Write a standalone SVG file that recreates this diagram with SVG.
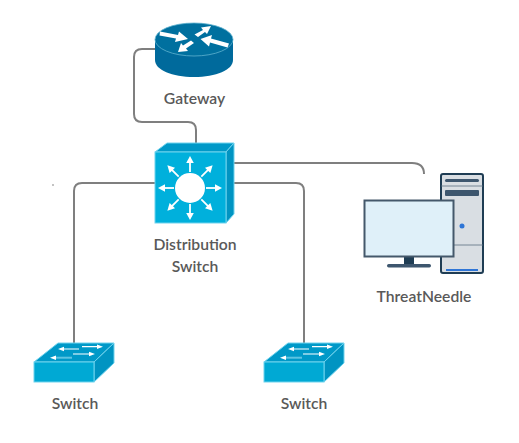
<svg xmlns="http://www.w3.org/2000/svg" width="519" height="443" viewBox="0 0 519 443">
<style>
.c{fill:none;stroke:#7f7f7f;stroke-width:2}
.t{font-family:Lato,"Liberation Sans",sans-serif;font-size:15.700px;font-weight:600;fill:#595959;text-anchor:middle}
.w{fill:#fff}
</style>
<defs>
<g id="sw">
<path d="M0 19L24 0H80L60 19Z" fill="#0099c8" stroke="#6fd3ee"/>
<path d="M60 19L80 0V20L60 39Z" fill="#0094c2" stroke="#6fd3ee"/>
<rect y="19" width="60" height="20" fill="#00a9d4" stroke="#6fd3ee"/>
<path d="M30 6H45M48 3.700H63M39 11H55" stroke="#fff" stroke-width="1.200" fill="none"/>
<path d="M22 14.700H38" stroke="#5cc4e2" stroke-width="2" fill="none"/>
<path d="M24 6l6-2.300v4.600zM69 3.700l-6-2.300v4.600zM61 11l-6-2.300v4.600zM16 14.700l6-2.300v4.600z" fill="#fff"/>
</g>
<g id="ar">
<path d="M0 -16V-27" stroke="#fff" stroke-width="1.800" fill="none"/>
<path d="M0 -32l-3.800 7h7.600z" fill="#fff"/>
</g>
</defs>
<g id="connectors">
<path class="c" d="M155 49H142Q134 49 134 57V114Q134 122 142 122H188Q196 122 196 130V143"/>
<path class="c" d="M234 163H412Q424 163 424 174"/>
<path class="c" d="M155 183H82Q74 183 74 191V345"/>
<path class="c" d="M234 183H296Q304 183 304 191V345"/>
</g>
<circle id="speck" cx="53" cy="185" r="0.800" fill="#777"/>
<g id="gateway">
<path d="M155 40V60C155 70 172 77 194 77S233 70 233 60V40Z" fill="#006a9c"/>
<ellipse cx="194" cy="39.500" rx="39" ry="16.500" fill="#00709f" stroke="#5fb3cf" stroke-width="0.800"/>
<path d="M160 31.500L178 35L179 31.500L188 39L175 42L176 38.500L159.500 35.500Z" class="w"/>
<path d="M194.500 34.500L203 30L201 27.500L211 26L207 34L205 32L198 37Z" class="w"/>
<path d="M229 43.500L211 38.500L212 35L200.500 39L209 46.500L210 42.500L227.500 47.500Z" class="w"/>
<path d="M191 40.500L183 45.500L181 43L178 52L188 51L186 48.500L194 43Z" class="w"/>
<text class="t" x="194.500" y="104">Gateway</text>
</g>
<g id="distribution-switch">
<path d="M155 152L167 143H234L226 152Z" fill="#0099c8" stroke="#6fd3ee"/>
<path d="M226 152L234 143V214L226 223Z" fill="#0094c2" stroke="#6fd3ee"/>
<rect x="155" y="152" width="71" height="71" fill="#00b0dc" stroke="#6fd3ee"/>
<circle cx="190" cy="188" r="15" class="w"/>
<g transform="translate(190 188)">
<use href="#ar"/>
<use href="#ar" transform="rotate(45)"/>
<use href="#ar" transform="rotate(90)"/>
<use href="#ar" transform="rotate(135)"/>
<use href="#ar" transform="rotate(180)"/>
<use href="#ar" transform="rotate(225)"/>
<use href="#ar" transform="rotate(270)"/>
<use href="#ar" transform="rotate(315)"/>
</g>
<text class="t" x="195" y="250">Distribution</text>
<text class="t" x="195" y="272">Switch</text>
</g>
<g id="threatneedle">
<rect x="441" y="174" width="42" height="99" rx="2" fill="#d9dee3" stroke="#1f3d54" stroke-width="2"/>
<path d="M441 186H483M441 245H483" stroke="#5a7082" stroke-width="0.800"/>
<rect x="445" y="179" width="34" height="3" rx="1.500" fill="#3d566e"/>
<rect x="445" y="190" width="34" height="6" rx="1" fill="#3d566e"/>
<circle cx="462" cy="226" r="2.500" fill="#2e75d6"/>
<rect x="446" y="269" width="32" height="2" fill="#2e75d6"/>
<rect x="404" y="257" width="10" height="8" fill="#1f3d54"/>
<rect x="387" y="264" width="44" height="3.500" rx="1.700" fill="#3d566e"/>
<rect x="364.500" y="200.500" width="89" height="56" fill="#dff0f9" stroke="#44586b" stroke-width="2"/>
<text class="t" x="424" y="302">ThreatNeedle</text>
</g>
<g id="switch-left">
<use href="#sw" transform="translate(34 343)"/>
<text class="t" x="75" y="409">Switch</text>
</g>
<g id="switch-right">
<use href="#sw" transform="translate(264 343)"/>
<text class="t" x="304" y="409">Switch</text>
</g>
</svg>
